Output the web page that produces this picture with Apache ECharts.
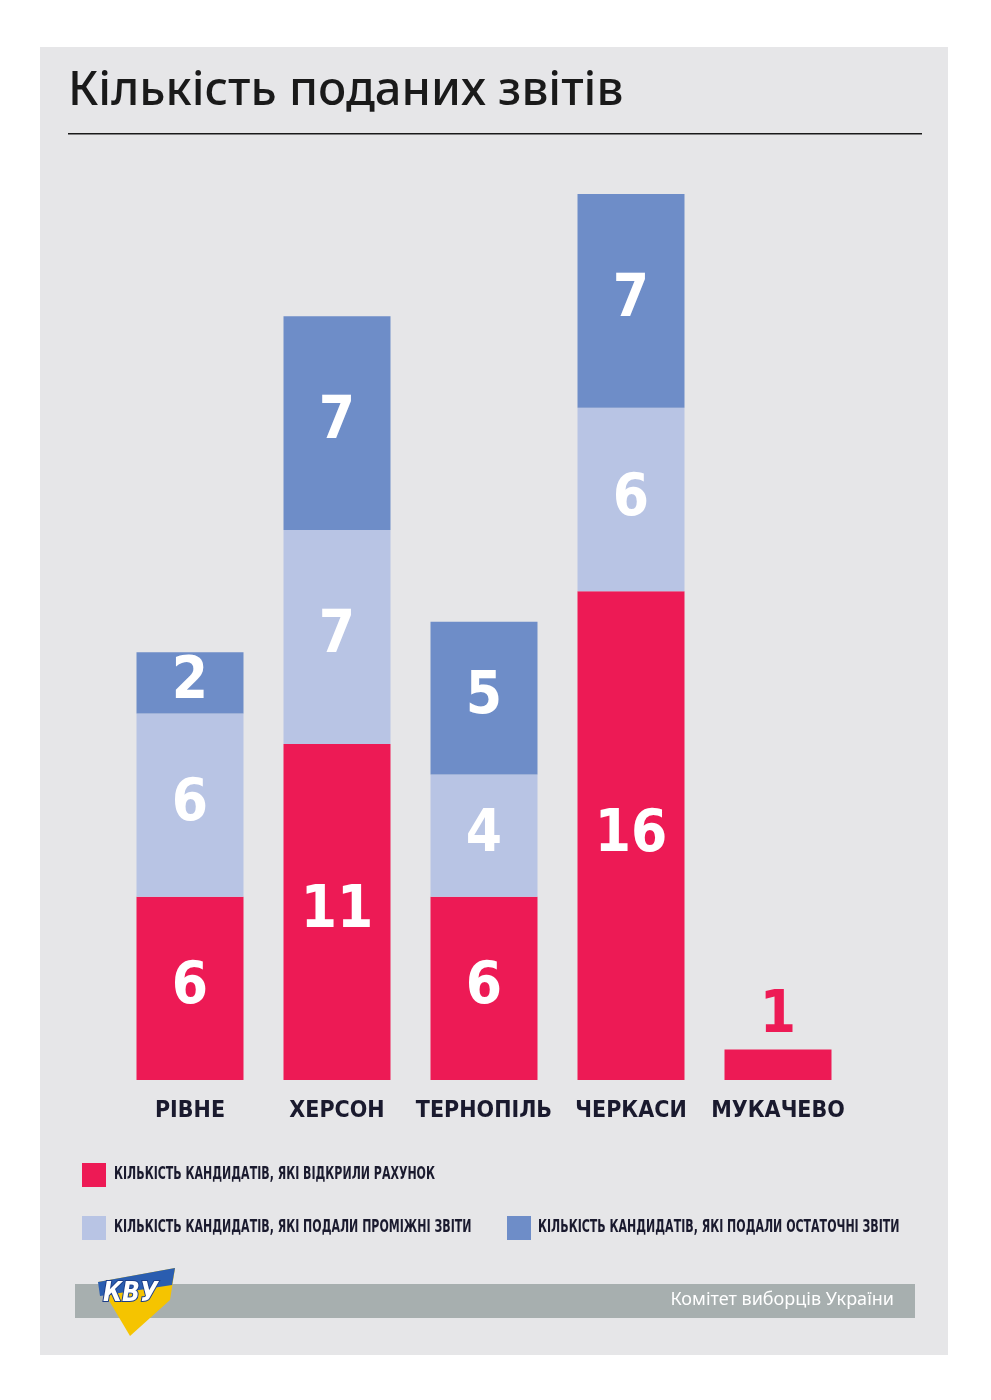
<!DOCTYPE html>
<html><head><meta charset="utf-8">
<script src="https://cdn.jsdelivr.net/npm/echarts@6/dist/echarts.min.js"></script>
<style>html,body{margin:0;background:#fff}#c{width:991px;height:1400px}</style>
</head><body><div id="c"></div>
<script>
const cities = ['РІВНЕ', 'ХЕРСОН', 'ТЕРНОПІЛЬ', 'ЧЕРКАСИ', 'МУКАЧЕВО'];
const opened = [6, 11, 6, 16, 1];
const interim = [6, 7, 4, 6, 0];
const finalR = [2, 7, 5, 7, 0];
const legendNames = ['КІЛЬКІСТЬ КАНДИДАТІВ, ЯКІ ВІДКРИЛИ РАХУНОК', 'КІЛЬКІСТЬ КАНДИДАТІВ, ЯКІ ПОДАЛИ ПРОМІЖНІ ЗВІТИ', 'КІЛЬКІСТЬ КАНДИДАТІВ, ЯКІ ПОДАЛИ ОСТАТОЧНІ ЗВІТИ'];
const colors = ['#ED1A55', '#B8C4E4', '#6E8DC8'];
const cond = '"DejaVu Sans Condensed", "Liberation Sans Narrow", sans-serif';

const big = { show: true, position: 'inside', color: '#fff', fontFamily: cond, fontWeight: 'bold', fontSize: 58,
  formatter: p => p.value ? p.value : '' };

function mk(name, vals, i) {
  return {
    name, type: 'bar', stack: 'a', barWidth: 107, itemStyle: { color: colors[i] },
    data: vals.map((v, k) => (i === 0 && v < 3)
      ? { value: v, label: { position: 'top', color: colors[0], distance: 4 } } : v),
    label: big
  };
}

function legText(x, y, t) {
  return { type: 'text', x, y, scaleX: 0.72, style: { text: t, fill: '#1a1a2e', font: 'bold 17px ' + cond } };
}

const chart = echarts.init(document.getElementById('c'));
chart.setOption({
  animation: false,
  backgroundColor: '#fff',
  grid: { left: 116.5, right: 139.5, top: 194, bottom: 320 },
  xAxis: { type: 'category', data: cities, axisLine: { show: false }, axisTick: { show: false },
    axisLabel: { interval: 0, color: '#1a1a2e', fontFamily: cond, fontWeight: 'bold', fontSize: 23, margin: 20 } },
  yAxis: { type: 'value', min: 0, max: 29, show: false },
  series: [mk(legendNames[0], opened, 0), mk(legendNames[1], interim, 1), mk(legendNames[2], finalR, 2)],
  graphic: [
    { type: 'rect', z: -10, shape: { x: 40, y: 47, width: 908, height: 1308 }, style: { fill: '#E6E6E8' } },
    { type: 'text', left: 68, top: 68, style: { text: 'Кількість поданих звітів', fill: '#1a1a1a', font: '500 47px "Noto Sans", sans-serif' } },
    { type: 'rect', shape: { x: 68, y: 133, width: 854, height: 1.5 }, style: { fill: '#1a1a1a' } },
    { type: 'rect', shape: { x: 82, y: 1163, width: 24, height: 24 }, style: { fill: colors[0] } },
    legText(114, 1166, legendNames[0]),
    { type: 'rect', shape: { x: 82, y: 1216, width: 24, height: 24 }, style: { fill: colors[1] } },
    legText(114, 1219, legendNames[1]),
    { type: 'rect', shape: { x: 507, y: 1216, width: 24, height: 24 }, style: { fill: colors[2] } },
    legText(538, 1219, legendNames[2]),
    { type: 'rect', shape: { x: 75, y: 1284, width: 840, height: 34 }, style: { fill: '#A7AFAF' } },
    { type: 'text', right: 97, top: 1291, style: { text: 'Комітет виборців України', fill: '#fff', font: '18px "Noto Sans", sans-serif' } },
    { type: 'polygon', shape: { points: [[98, 1282], [175, 1268], [170, 1300], [130, 1336]] }, style: { fill: '#F5C400' } },
    { type: 'polygon', shape: { points: [[98, 1282], [175, 1268], [172, 1285], [100, 1296]] }, style: { fill: '#2A5DB0' } },
    { type: 'text', left: 102, top: 1280, style: { text: 'КВУ', fill: '#fff', font: 'italic bold 26px ' + cond, stroke: '#1d3f8a', lineWidth: 2 } }
  ]
});
</script></body></html>
